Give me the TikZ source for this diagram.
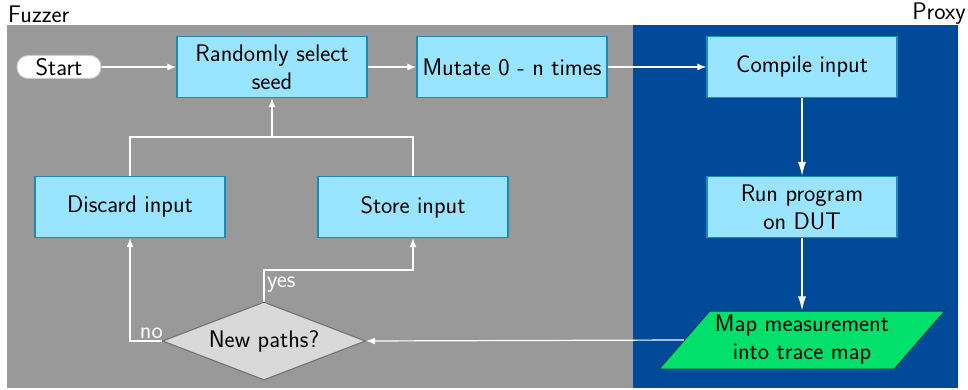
\documentclass[tikz,border=0pt]{standalone}
\usepackage{fontspec}
\usetikzlibrary{shapes.geometric,arrows.meta}
\definecolor{bggray}{RGB}{153,153,153}
\definecolor{proxyblue}{RGB}{0,74,153}
\definecolor{boxfill}{RGB}{153,229,255}
\definecolor{boxedge}{RGB}{22,140,190}
\definecolor{mapgreen}{RGB}{0,224,106}
\definecolor{mapedge}{RGB}{0,60,90}
\definecolor{dgray}{RGB}{217,217,217}
\definecolor{dedge}{RGB}{110,110,110}
\begin{document}
\begin{tikzpicture}[x=1pt,y=-1pt,
  every node/.style={font=\fontsize{24}{28}\selectfont\sffamily},
  procbox/.style={draw=boxedge,line width=1.3pt,fill=boxfill,minimum width=190pt,minimum height=61pt,align=center,inner sep=2pt},
  startbox/.style={draw=black!20,line width=1pt,fill=white,rounded corners=11pt,minimum width=84pt,minimum height=23pt,inner sep=0pt},
  decision/.style={diamond,draw=dedge,line width=1pt,fill=dgray,minimum width=203pt,minimum height=78pt,inner sep=0pt,aspect=2.6},
  iobox/.style={trapezium,trapezium left angle=46,trapezium right angle=134,trapezium stretches=true,draw=mapedge,line width=1pt,fill=mapgreen,minimum width=286pt,minimum height=58pt,align=center,inner sep=0pt},
  flow/.style={draw=white,line width=1.2pt,-{Latex[length=9pt,width=7pt]}},
  flowlong/.style={draw=white,line width=1.2pt,-{Latex[length=14pt,width=8pt]}},
  plain/.style={draw=white,line width=1.2pt},
  lbl/.style={text=white,inner sep=1pt}
]
\useasboundingbox (0,0) rectangle (968,390);
\fill[bggray] (7,25) rectangle (633,388);
\fill[proxyblue] (633,25) rectangle (958,388);
\node[anchor=west,inner sep=0pt] (fz) at (8,14) {Fuzzer};
\node[anchor=east,inner sep=0pt] (px) at (966,14) {Proxy};

\node[startbox] (start) at (59,67) {Start};
\node[procbox] (sel) at (272,67) {Randomly select\\seed};
\node[procbox] (mut) at (512,67) {Mutate 0 - n times};
\node[procbox] (comp) at (802,67) {Compile input};
\node[procbox] (disc) at (130,207) {Discard input};
\node[procbox] (store) at (413,207) {Store input};
\node[procbox] (run) at (802,207) {Run program\\on DUT};
\node[iobox] (map) at (802,340) {Map measurement\\into trace map};
\node[decision] (dec) at (264,341) {New paths?};

\coordinate (merge) at (272,137);
\coordinate (noc) at (130,341);
\coordinate (yesc) at (264,270);

\draw[flow] (start) -- (sel);
\draw[flow] (sel) -- (mut);
\draw[flow] (mut) -- (comp);
\draw[flowlong] (comp) -- (run);
\draw[flowlong] (run) -- (map);
\draw[flow] (map.west) -- (dec.east);
\draw[flow] (dec.west) -- (noc) -- (disc.south);
\draw[flow] (dec.north) -- (yesc) -| (store.south);
\draw[plain] (disc.north) |- (merge);
\draw[plain] (store.north) |- (merge);
\draw[flow] (merge) -- (sel.south);
\node[lbl,anchor=south east] (no) at (164,340) {no};
\node[lbl,anchor=west] (yes) at (266,285) {yes};
\end{tikzpicture}
\end{document}
